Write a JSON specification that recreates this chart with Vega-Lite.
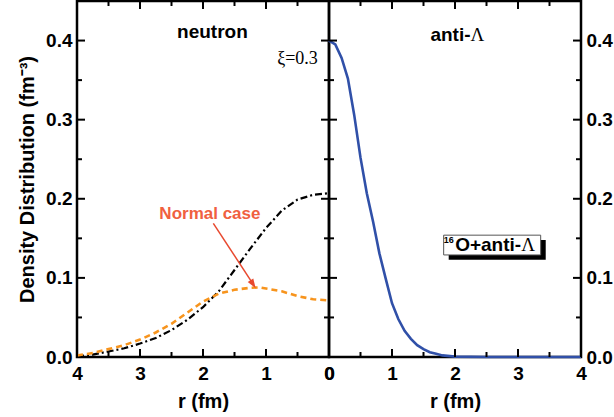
{
  "$schema": "https://vega.github.io/schema/vega-lite/v6.json",
  "padding": {"left": 16, "top": -2, "right": 0, "bottom": 0},
  "background": "white",
  "config": {
    "font": "Liberation Sans",
    "view": {"stroke": "black", "strokeWidth": 2.5},
    "rule": {"color": "black", "strokeWidth": 2, "opacity": 1},
    "axis": {
      "domain": false, "grid": false, "ticks": false,
      "labelFont": "Liberation Sans", "labelFontWeight": "bold", "labelFontSize": 19, "labelColor": "black",
      "titleFont": "Liberation Sans", "titleFontWeight": "bold", "titleFontSize": 20, "titleColor": "black",
      "labelFlush": false, "labelOverlap": false
    }
  },
  "datasets": {
    "neutron": [
      {"r": 4.0, "rho": 0.001}, {"r": 3.75, "rho": 0.003}, {"r": 3.5, "rho": 0.007}, {"r": 3.25, "rho": 0.011},
      {"r": 3.0, "rho": 0.017}, {"r": 2.75, "rho": 0.024}, {"r": 2.5, "rho": 0.034}, {"r": 2.25, "rho": 0.047},
      {"r": 2.0, "rho": 0.063}, {"r": 1.75, "rho": 0.083}, {"r": 1.5, "rho": 0.11}, {"r": 1.25, "rho": 0.137},
      {"r": 1.0, "rho": 0.163}, {"r": 0.75, "rho": 0.185}, {"r": 0.5, "rho": 0.199}, {"r": 0.25, "rho": 0.205},
      {"r": 0.0, "rho": 0.207}
    ],
    "normal": [
      {"r": 4.0, "rho": 0.002}, {"r": 3.75, "rho": 0.005}, {"r": 3.5, "rho": 0.01}, {"r": 3.25, "rho": 0.015},
      {"r": 3.0, "rho": 0.022}, {"r": 2.75, "rho": 0.031}, {"r": 2.5, "rho": 0.042}, {"r": 2.25, "rho": 0.056},
      {"r": 2.0, "rho": 0.07}, {"r": 1.75, "rho": 0.08}, {"r": 1.5, "rho": 0.085}, {"r": 1.25, "rho": 0.0875},
      {"r": 1.1, "rho": 0.088}, {"r": 1.0, "rho": 0.0865}, {"r": 0.75, "rho": 0.083}, {"r": 0.5, "rho": 0.077},
      {"r": 0.25, "rho": 0.073}, {"r": 0.0, "rho": 0.0715}
    ],
    "antiL": [
      {"r": 0.0, "rho": 0.4}, {"r": 0.1, "rho": 0.395}, {"r": 0.2, "rho": 0.378}, {"r": 0.3, "rho": 0.352},
      {"r": 0.4, "rho": 0.306}, {"r": 0.5, "rho": 0.252}, {"r": 0.6, "rho": 0.207}, {"r": 0.7, "rho": 0.171},
      {"r": 0.8, "rho": 0.131}, {"r": 0.9, "rho": 0.099}, {"r": 1.0, "rho": 0.068}, {"r": 1.1, "rho": 0.048},
      {"r": 1.2, "rho": 0.033}, {"r": 1.3, "rho": 0.023}, {"r": 1.4, "rho": 0.015}, {"r": 1.5, "rho": 0.01},
      {"r": 1.6, "rho": 0.006}, {"r": 1.7, "rho": 0.004}, {"r": 1.8, "rho": 0.002}, {"r": 2.0, "rho": 0.0005},
      {"r": 2.5, "rho": 0.0}, {"r": 3.0, "rho": 0.0}, {"r": 3.5, "rho": 0.0}, {"r": 4.0, "rho": 0.0}
    ],
    "xmaj": [{"t": 0}, {"t": 1}, {"t": 2}, {"t": 3}, {"t": 4}],
    "xmin": [{"t": 0.5}, {"t": 1.5}, {"t": 2.5}, {"t": 3.5}],
    "ymaj": [{"t": 0.1}, {"t": 0.2}, {"t": 0.3}, {"t": 0.4}],
    "ymin": [{"t": 0.05}, {"t": 0.15}, {"t": 0.25}, {"t": 0.35}]
  },
  "spacing": 0,
  "bounds": "flush",
  "hconcat": [
    {
      "width": 252, "height": 356,
      "resolve": {"axis": {"x": "independent", "y": "independent"}},
      "layer": [
        {
          "data": {"name": "neutron"},
          "mark": {"type": "line", "color": "black", "strokeWidth": 2.2, "strokeDash": [7, 3, 2, 3]},
          "encoding": {
            "x": {"field": "r", "type": "quantitative", "scale": {"domain": [0, 4], "reverse": true, "nice": false},
              "axis": {"orient": "bottom", "values": [0, 1, 2, 3, 4], "format": ".0f", "labelPadding": 7, "title": "r (fm)", "titlePadding": 8}},
            "y": {"field": "rho", "type": "quantitative", "scale": {"domain": [0, 0.45], "nice": false, "zero": true},
              "axis": {"orient": "left", "values": [0, 0.1, 0.2, 0.3, 0.4], "format": ".1f", "labelPadding": 5, "title": "Density Distribution (fm⁻³)", "titlePadding": 8}}
          }
        },
        {
          "data": {"name": "normal"},
          "mark": {"type": "line", "color": "#F7941D", "strokeWidth": 2.6, "strokeDash": [6, 4]},
          "encoding": {
            "x": {"field": "r", "type": "quantitative", "scale": {"domain": [0, 4], "reverse": true, "nice": false}, "axis": null},
            "y": {"field": "rho", "type": "quantitative", "scale": {"domain": [0, 0.45], "nice": false, "zero": true}, "axis": null}
          }
        },
        {
          "data": {"name": "xmaj"},
          "mark": {"type": "rule"},
          "encoding": {"x": {"field": "t", "type": "quantitative", "axis": null}, "y": {"datum": 0, "type": "quantitative", "axis": null}, "y2": {"datum": 0.0101}}
        },
        {
          "data": {"name": "xmaj"},
          "mark": {"type": "rule"},
          "encoding": {"x": {"field": "t", "type": "quantitative", "axis": null}, "y": {"datum": 0.45, "type": "quantitative", "axis": null}, "y2": {"datum": 0.4399}}
        },
        {
          "data": {"name": "xmin"},
          "mark": {"type": "rule"},
          "encoding": {"x": {"field": "t", "type": "quantitative", "axis": null}, "y": {"datum": 0, "type": "quantitative", "axis": null}, "y2": {"datum": 0.0063}}
        },
        {
          "data": {"name": "xmin"},
          "mark": {"type": "rule"},
          "encoding": {"x": {"field": "t", "type": "quantitative", "axis": null}, "y": {"datum": 0.45, "type": "quantitative", "axis": null}, "y2": {"datum": 0.4437}}
        },
        {
          "data": {"name": "ymaj"},
          "mark": {"type": "rule"},
          "encoding": {"y": {"field": "t", "type": "quantitative", "axis": null}, "x": {"datum": 4, "type": "quantitative", "axis": null}, "x2": {"datum": 3.873}}
        },
        {
          "data": {"name": "ymaj"},
          "mark": {"type": "rule"},
          "encoding": {"y": {"field": "t", "type": "quantitative", "axis": null}, "x": {"datum": 0, "type": "quantitative", "axis": null}, "x2": {"datum": 0.127}}
        },
        {
          "data": {"name": "ymin"},
          "mark": {"type": "rule"},
          "encoding": {"y": {"field": "t", "type": "quantitative", "axis": null}, "x": {"datum": 4, "type": "quantitative", "axis": null}, "x2": {"datum": 3.921}}
        },
        {
          "data": {"name": "ymin"},
          "mark": {"type": "rule"},
          "encoding": {"y": {"field": "t", "type": "quantitative", "axis": null}, "x": {"datum": 0, "type": "quantitative", "axis": null}, "x2": {"datum": 0.079}}
        },
        {
          "data": {"values": [{}]},
          "mark": {"type": "text", "font": "Liberation Sans", "fontWeight": "bold", "fontSize": 19, "color": "black", "align": "center", "baseline": "alphabetic"},
          "encoding": {
            "x": {"datum": 1.85, "type": "quantitative", "axis": null},
            "y": {"datum": 0.403, "type": "quantitative", "axis": null},
            "text": {"value": "neutron"}
          }
        },
        {
          "data": {"values": [{}]},
          "mark": {"type": "text", "font": "Liberation Serif", "fontSize": 18, "color": "black", "align": "center", "baseline": "alphabetic"},
          "encoding": {
            "x": {"datum": 0.5, "type": "quantitative", "axis": null},
            "y": {"datum": 0.37, "type": "quantitative", "axis": null},
            "text": {"value": "ξ=0.3"}
          }
        },
        {
          "data": {"values": [{}]},
          "mark": {"type": "text", "font": "Liberation Sans", "fontWeight": "bold", "fontSize": 17, "color": "#F0603F", "align": "center", "baseline": "alphabetic"},
          "encoding": {
            "x": {"datum": 1.89, "type": "quantitative", "axis": null},
            "y": {"datum": 0.174, "type": "quantitative", "axis": null},
            "text": {"value": "Normal case"}
          }
        },
        {
          "data": {"values": [{}]},
          "mark": {"type": "rule", "color": "#E8492F", "strokeWidth": 1.5},
          "encoding": {
            "x": {"datum": 1.836, "type": "quantitative", "axis": null},
            "y": {"datum": 0.169, "type": "quantitative", "axis": null},
            "x2": {"datum": 1.22},
            "y2": {"datum": 0.094}
          }
        },
        {
          "data": {"values": [{}]},
          "mark": {"type": "point", "shape": "M0,-1L0.7,1L-0.7,1Z", "filled": true, "color": "#E8492F", "opacity": 1, "size": 90, "angle": 147},
          "encoding": {
            "x": {"datum": 1.205, "type": "quantitative", "axis": null},
            "y": {"datum": 0.092, "type": "quantitative", "axis": null}
          }
        }
      ]
    },
    {
      "width": 252, "height": 356,
      "resolve": {"axis": {"x": "independent", "y": "independent"}},
      "layer": [
        {
          "data": {"name": "antiL"},
          "mark": {"type": "line", "color": "#3050A8", "strokeWidth": 2.6},
          "encoding": {
            "x": {"field": "r", "type": "quantitative", "scale": {"domain": [0, 4], "nice": false},
              "axis": {"orient": "bottom", "values": [0, 1, 2, 3, 4], "format": ".0f", "labelPadding": 7, "title": "r (fm)", "titlePadding": 8}},
            "y": {"field": "rho", "type": "quantitative", "scale": {"domain": [0, 0.45], "nice": false, "zero": true},
              "axis": {"orient": "right", "values": [0, 0.1, 0.2, 0.3, 0.4], "format": ".1f", "labelPadding": 5, "title": null}}
          }
        },
        {
          "data": {"name": "xmaj"},
          "mark": {"type": "rule"},
          "encoding": {"x": {"field": "t", "type": "quantitative", "axis": null}, "y": {"datum": 0, "type": "quantitative", "axis": null}, "y2": {"datum": 0.0101}}
        },
        {
          "data": {"name": "xmaj"},
          "mark": {"type": "rule"},
          "encoding": {"x": {"field": "t", "type": "quantitative", "axis": null}, "y": {"datum": 0.45, "type": "quantitative", "axis": null}, "y2": {"datum": 0.4399}}
        },
        {
          "data": {"name": "xmin"},
          "mark": {"type": "rule"},
          "encoding": {"x": {"field": "t", "type": "quantitative", "axis": null}, "y": {"datum": 0, "type": "quantitative", "axis": null}, "y2": {"datum": 0.0063}}
        },
        {
          "data": {"name": "xmin"},
          "mark": {"type": "rule"},
          "encoding": {"x": {"field": "t", "type": "quantitative", "axis": null}, "y": {"datum": 0.45, "type": "quantitative", "axis": null}, "y2": {"datum": 0.4437}}
        },
        {
          "data": {"name": "ymaj"},
          "mark": {"type": "rule"},
          "encoding": {"y": {"field": "t", "type": "quantitative", "axis": null}, "x": {"datum": 0, "type": "quantitative", "axis": null}, "x2": {"datum": 0.127}}
        },
        {
          "data": {"name": "ymaj"},
          "mark": {"type": "rule"},
          "encoding": {"y": {"field": "t", "type": "quantitative", "axis": null}, "x": {"datum": 4, "type": "quantitative", "axis": null}, "x2": {"datum": 3.873}}
        },
        {
          "data": {"name": "ymin"},
          "mark": {"type": "rule"},
          "encoding": {"y": {"field": "t", "type": "quantitative", "axis": null}, "x": {"datum": 0, "type": "quantitative", "axis": null}, "x2": {"datum": 0.079}}
        },
        {
          "data": {"name": "ymin"},
          "mark": {"type": "rule"},
          "encoding": {"y": {"field": "t", "type": "quantitative", "axis": null}, "x": {"datum": 4, "type": "quantitative", "axis": null}, "x2": {"datum": 3.921}}
        },
        {
          "data": {"values": [{}]},
          "mark": {"type": "text", "font": "Liberation Sans", "fontWeight": "bold", "fontSize": 19, "color": "black", "align": "right", "baseline": "alphabetic"},
          "encoding": {
            "x": {"datum": 2.247, "type": "quantitative", "axis": null},
            "y": {"datum": 0.4, "type": "quantitative", "axis": null},
            "text": {"value": "anti-"}
          }
        },
        {
          "data": {"values": [{}]},
          "mark": {"type": "text", "font": "Liberation Serif", "fontSize": 19, "color": "black", "align": "left", "baseline": "alphabetic"},
          "encoding": {
            "x": {"datum": 2.247, "type": "quantitative", "axis": null},
            "y": {"datum": 0.4, "type": "quantitative", "axis": null},
            "text": {"value": "Λ"}
          }
        },
        {
          "data": {"values": [{}]},
          "mark": {"type": "rect", "color": "black"},
          "encoding": {
            "x": {"datum": 1.9, "type": "quantitative", "axis": null},
            "x2": {"datum": 3.44},
            "y": {"datum": 0.123, "type": "quantitative", "axis": null},
            "y2": {"datum": 0.148}
          }
        },
        {
          "data": {"values": [{}]},
          "mark": {"type": "rect", "fill": "white", "stroke": "#555555", "strokeWidth": 1},
          "encoding": {
            "x": {"datum": 1.82, "type": "quantitative", "axis": null},
            "x2": {"datum": 3.36},
            "y": {"datum": 0.129, "type": "quantitative", "axis": null},
            "y2": {"datum": 0.154}
          }
        },
        {
          "data": {"values": [{}]},
          "mark": {"type": "text", "font": "Liberation Sans", "fontWeight": "bold", "fontSize": 9, "color": "black", "align": "center", "baseline": "alphabetic"},
          "encoding": {
            "x": {"datum": 1.9, "type": "quantitative", "axis": null},
            "y": {"datum": 0.1435, "type": "quantitative", "axis": null},
            "text": {"value": "16"}
          }
        },
        {
          "data": {"values": [{}]},
          "mark": {"type": "text", "font": "Liberation Sans", "fontWeight": "bold", "fontSize": 19, "color": "black", "align": "right", "baseline": "alphabetic"},
          "encoding": {
            "x": {"datum": 3.05, "type": "quantitative", "axis": null},
            "y": {"datum": 0.134, "type": "quantitative", "axis": null},
            "text": {"value": "O+anti-"}
          }
        },
        {
          "data": {"values": [{}]},
          "mark": {"type": "text", "font": "Liberation Serif", "fontSize": 19, "color": "black", "align": "left", "baseline": "alphabetic"},
          "encoding": {
            "x": {"datum": 3.05, "type": "quantitative", "axis": null},
            "y": {"datum": 0.134, "type": "quantitative", "axis": null},
            "text": {"value": "Λ"}
          }
        }
      ]
    }
  ]
}
